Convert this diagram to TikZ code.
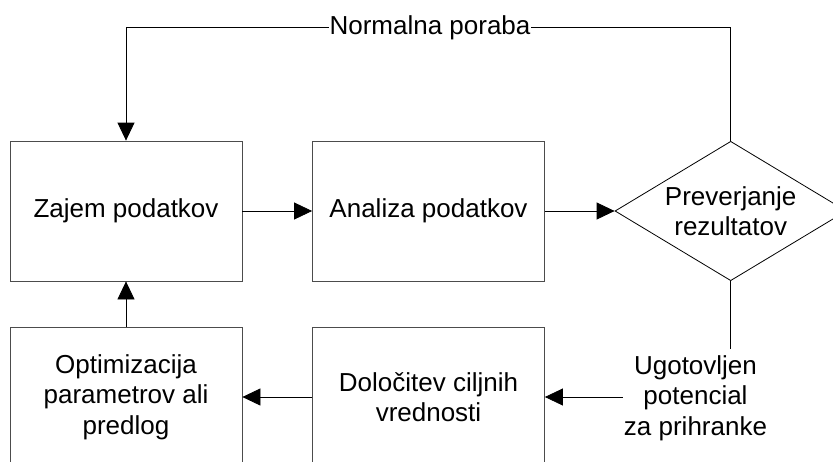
\documentclass[tikz,border=0pt]{standalone}
\usepackage{fontspec}
\setmainfont{Liberation Sans}
\usetikzlibrary{arrows.meta,shapes.geometric}
\begin{document}
\begin{tikzpicture}[x=1pt,y=-1pt,
  txt/.style={font=\fontsize{26}{30.5}\selectfont, align=center},
  box/.style={txt, draw=black!70, line width=0.8pt, minimum width=232pt, minimum height=140pt, inner sep=0pt},
  lbl/.style={txt, fill=white, inner xsep=1pt, inner ysep=6pt},
  conn/.style={line width=0.8pt, draw=black},
  arr/.style={conn, -{Triangle[length=18pt,width=17pt]}}]
\useasboundingbox (0,0) rectangle (833,461);
\clip (0,0) rectangle (833,461);
\fill[white] (0,0) rectangle (833,461);
\node[box] (zajem) at (126,211) {Zajem podatkov};
\node[box] (analiza) at (428.5,211) {Analiza podatkov};
\node[diamond, draw=black, line width=0.8pt, minimum width=231.4pt, minimum height=139.4pt, inner sep=0pt] (prev) at (730.7,211) {};
\node[txt] (prevtxt) at (prev.center) {Preverjanje\\rezultatov};
\node[box] (opt) at (126,397) {Optimizacija\\parametrov ali\\predlog};
\node[box] (dol) at (428.5,397) {Določitev ciljnih\\vrednosti};
\node[lbl] (ugot) at (695.5,398) {Ugotovljen\\potencial\\za prihranke};
\coordinate (tr) at (730.7,27.5);
\coordinate (tl) at (126,27.5);
\draw[arr] (zajem) -- (analiza);
\draw[arr] (analiza.east) -- (prev.west);
\draw[arr] (opt) -- (zajem);
\draw[arr] (dol) -- (opt);
\draw[conn] (prev.south) -- (prev.south |- ugot.north);
\draw[arr] (ugot.west |- dol.east) -- (dol.east);
\draw[arr] (prev.north) -- (tr) -- (tl) -- (zajem.north);
\node[lbl, inner ysep=1pt] (norm) at (430,27.5) {Normalna poraba};
\end{tikzpicture}
\end{document}
